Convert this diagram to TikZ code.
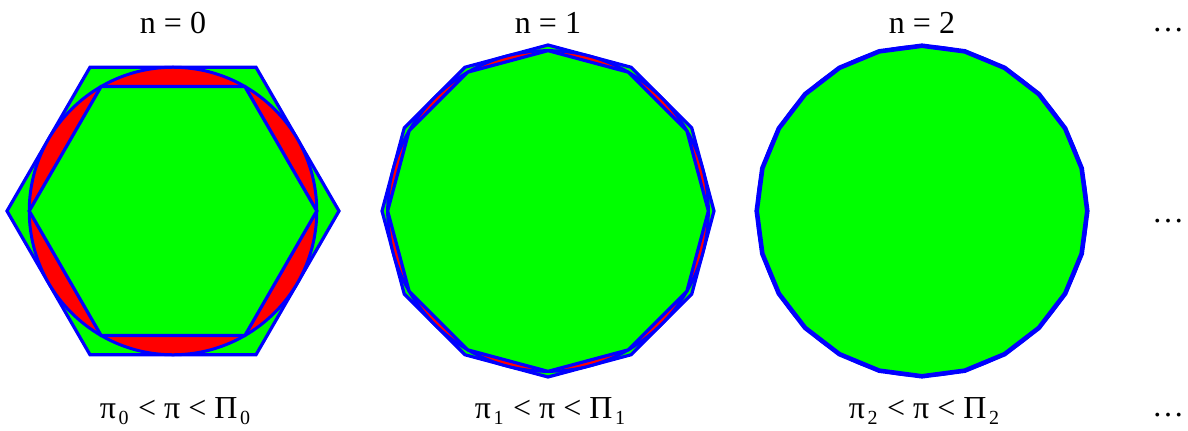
\documentclass[tikz,border=0pt]{standalone}
\usepackage{fontspec}
\setmainfont{Liberation Serif}
\usetikzlibrary{positioning}
\definecolor{polyfill}{RGB}{0,255,0}
\definecolor{discfill}{RGB}{255,0,0}
\definecolor{edge}{RGB}{0,0,255}
\newcommand{\idx}[1]{\kern0.08em\raisebox{-3pt}{\fontsize{10}{12}\selectfont #1}}

\begin{document}
\begin{tikzpicture}[x=0.5pt,y=0.5pt,
    poly/.style={fill=polyfill,draw=edge,line width=1.6pt,line join=miter},
    disc/.style={fill=discfill,draw=edge,line width=1.5pt},
    lbl/.style={font=\fontsize{16}{19}\selectfont,inner sep=0pt,anchor=base}]
  \useasboundingbox (0,0) rectangle (1188,430);
  % outer polygon, circle, inner polygon for each step
  \foreach \k/\cx/\nn in {0/173/6,1/548/12,2/922/24}{
    \pgfmathsetmacro{\R}{166}
    \pgfmathsetmacro{\r}{\R*cos(180/\nn)}
    \begin{scope}[shift={(\cx,219)}]
      \draw[poly] (0:\R) \foreach \i in {1,...,\nn}{ -- (\i*360/\nn:\R)} -- cycle;
      \draw[disc] (0,0) circle[radius=\r*0.5pt];
      \draw[poly] (0:\r) \foreach \i in {1,...,\nn}{ -- (\i*360/\nn:\r)} -- cycle;
    \end{scope}
    \node[lbl] (ttl\k) at (\cx,397) {n = \k};
    \node[lbl] (bnd\k) at (\cx+2,12) {π\idx{\k}\kern0.05em{} < π < Π\idx{\k}};
  }
  \node[lbl] (moretop) at (1168,399) {…};
  \node[lbl] (moremid) at (1168,208) {…};
  \node[lbl] (morebot) at (1168,14) {…};
\end{tikzpicture}
\end{document}
